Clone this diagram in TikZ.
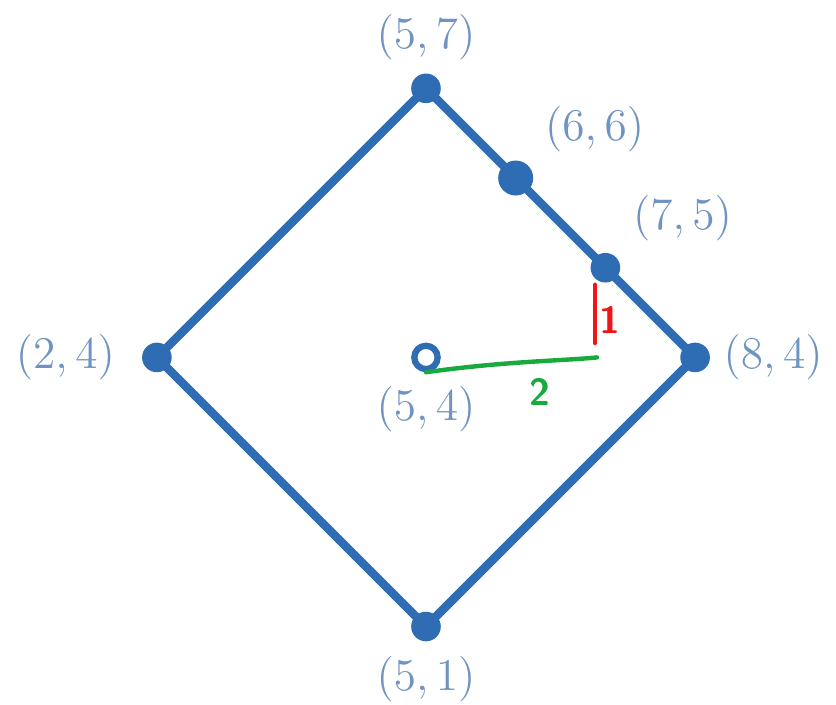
\documentclass[tikz,border=0pt]{standalone}
\usetikzlibrary{positioning}
\definecolor{edgeblue}{RGB}{46,108,180}
\definecolor{labelblue}{RGB}{112,148,194}
\definecolor{penred}{RGB}{240,20,20}
\definecolor{pengreen}{RGB}{24,170,60}
\tikzset{
  dot/.style={circle, fill=edgeblue, inner sep=0pt, minimum size=0.33cm},
  bigdot/.style={circle, fill=edgeblue, inner sep=0pt, minimum size=0.39cm},
  hole/.style={circle, draw=edgeblue, line width=2pt, fill=white, inner sep=0pt, minimum size=0.26cm},
  lbl/.style={text=labelblue, font=\fontsize{14}{16}\selectfont},
  pen/.style={font=\sffamily\bfseries\large}
}
\begin{document}
\begin{tikzpicture}
  \useasboundingbox (0.251,0.126) rectangle (9.571,7.985);
  % corners of the square
  \coordinate (v57) at (5,7);
  \coordinate (v84) at (8,4);
  \coordinate (v51) at (5,1);
  \coordinate (v24) at (2,4);
  \draw[edgeblue, line width=2.7pt, line join=round] (v57) -- (v84) -- (v51) -- (v24) -- cycle;
  % points
  \node[dot] (p57) at (v57) {};
  \node[dot] (p84) at (v84) {};
  \node[dot] (p51) at (v51) {};
  \node[dot] (p24) at (v24) {};
  \node[bigdot] (p66) at (6,6) {};
  \node[dot] (p75) at (7,5) {};
  \node[hole] (p54) at (5,4) {};
  % labels
  \node[lbl] (l57) at (5,7.57) {$(5,7)$};
  \node[lbl] (l66) at (6.88,6.54) {$(6,6)$};
  \node[lbl] (l75) at (7.86,5.55) {$(7,5)$};
  \node[lbl] (l24) at (0.98,4) {$(2,4)$};
  \node[lbl] (l84) at (8.87,4) {$(8,4)$};
  \node[lbl] (l54) at (5,3.42) {$(5,4)$};
  \node[lbl] (l51) at (5,0.41) {$(5,1)$};
  % hand marks
  \coordinate (g1) at (6.906,4.0);
  \coordinate (r1) at (6.884,4.81);
  \coordinate (r2) at (6.884,4.16);
  \draw[pengreen, line width=1.4pt, line cap=round] (p54.south) .. controls (5.9,3.96) and (6.5,3.96) .. (g1);
  \draw[penred, line width=1.4pt, line cap=round] (r1) -- (r2);
  \node[pen, text=penred] (n1) at (7.05,4.42) {1};
  \node[pen, text=pengreen] (n2) at (6.27,3.62) {2};
\end{tikzpicture}
\end{document}
